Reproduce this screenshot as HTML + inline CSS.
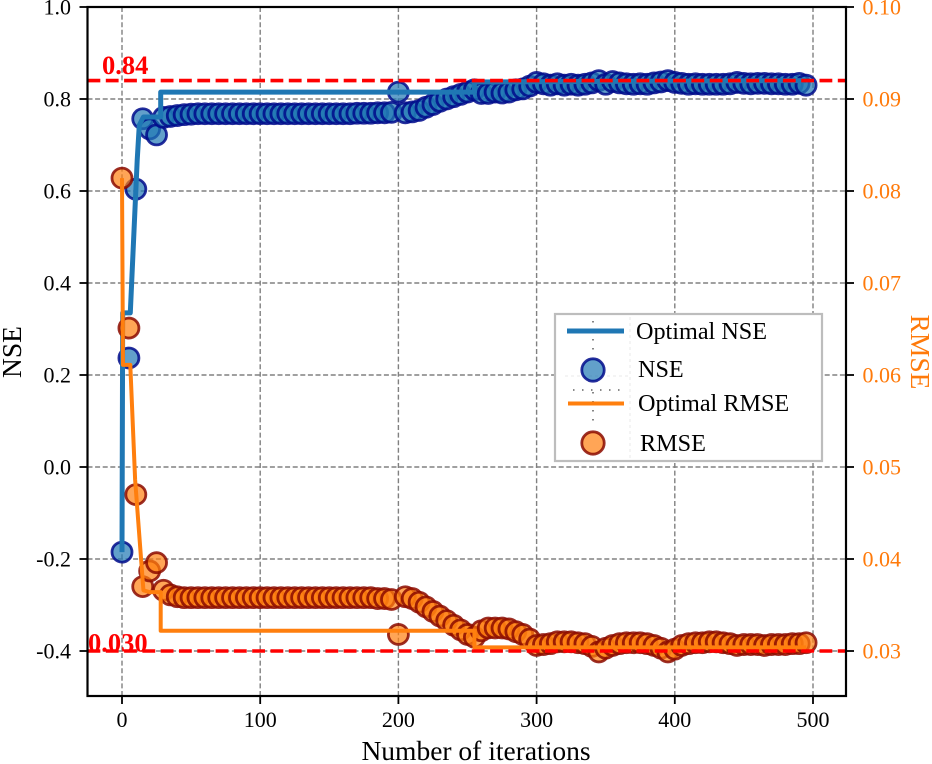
<!DOCTYPE html>
<html>
<head>
<meta charset="utf-8">
<style>
html,body{margin:0;padding:0;background:#fff}
svg{display:block}
text{font-family:"Liberation Serif",serif}
</style>
</head>
<body>
<svg id="chart" xmlns="http://www.w3.org/2000/svg" width="932" height="764" viewBox="0 0 932 764"></svg>
<script>
const iterations = [0,5,10,15,20,25,30,35,40,45,50,55,60,65,70,75,80,85,90,95,100,105,110,115,120,125,130,135,140,145,150,155,160,165,170,175,180,185,190,195,200,205,210,215,220,225,230,235,240,245,250,255,260,265,270,275,280,285,290,295,300,305,310,315,320,325,330,335,340,345,350,355,360,365,370,375,380,385,390,395,400,405,410,415,420,425,430,435,440,445,450,455,460,465,470,475,480,485,490,495];
const nseValues = [-0.185,0.237,0.604,0.757,0.735,0.722,0.76,0.762,0.764,0.766,0.767,0.768,0.768,0.768,0.768,0.768,0.768,0.768,0.768,0.768,0.768,0.768,0.768,0.768,0.768,0.768,0.768,0.768,0.768,0.768,0.768,0.768,0.768,0.768,0.769,0.769,0.769,0.77,0.77,0.771,0.815,0.77,0.772,0.775,0.782,0.788,0.795,0.8,0.805,0.81,0.815,0.82,0.812,0.812,0.815,0.813,0.815,0.82,0.822,0.828,0.836,0.833,0.83,0.833,0.83,0.832,0.83,0.832,0.835,0.84,0.832,0.838,0.835,0.833,0.832,0.833,0.832,0.835,0.837,0.84,0.836,0.834,0.832,0.833,0.832,0.832,0.832,0.832,0.833,0.836,0.834,0.833,0.834,0.834,0.833,0.833,0.832,0.832,0.834,0.83];
const rmseValues = [0.0814,0.0651,0.047,0.037,0.0387,0.0396,0.0366,0.0361,0.0359,0.0358,0.0358,0.0358,0.0358,0.0358,0.0358,0.0358,0.0358,0.0358,0.0358,0.0358,0.0358,0.0358,0.0358,0.0358,0.0358,0.0358,0.0358,0.0358,0.0358,0.0358,0.0358,0.0358,0.0358,0.0358,0.0358,0.0358,0.0358,0.0357,0.0357,0.0356,0.0318,0.0359,0.0357,0.0353,0.0348,0.0343,0.0338,0.0333,0.0328,0.0323,0.0318,0.0315,0.0322,0.0325,0.0325,0.0325,0.0324,0.0321,0.0318,0.0313,0.0306,0.0307,0.0308,0.031,0.031,0.031,0.0309,0.0308,0.0305,0.0299,0.0303,0.0306,0.0308,0.0309,0.0309,0.0309,0.0308,0.0306,0.0303,0.0299,0.0302,0.0306,0.0308,0.0309,0.0309,0.031,0.031,0.0309,0.0308,0.0306,0.0307,0.0307,0.0307,0.0306,0.0307,0.0307,0.0307,0.0308,0.0308,0.0309];
const optIterations = [0,0.5,6,11,12.5,15.5,28,28,255,255,495];
const optNseValues = [-0.185,0.335,0.335,0.667,0.743,0.761,0.761,0.815,0.815,0.837,0.84];
const optRmseIterations = [0,0.7,6,9.5,15.5,20,28,28,255,255,495];
const optRmseValues = [0.0814,0.0611,0.0611,0.0486,0.0366,0.0364,0.0364,0.0322,0.0322,0.0304,0.0304];
const xTicks = [0,100,200,300,400,500];
const yLeftTicks = [-0.4,-0.2,0,0.2,0.4,0.6,0.8,1.0];
const yRightTicks = [0.03,0.04,0.05,0.06,0.07,0.08,0.09,0.10];
const nseTarget = 0.84;
const rmseTarget = 0.03;

const NS = 'http://www.w3.org/2000/svg';
const svg = document.getElementById('chart');
const L = 87.5, R = 846, T = 7, B = 696;
const xAt = v => 122 + v * 1.382;
const yL = v => 7 + (1 - v) * 460;
const yR = v => 7 + (0.1 - v) * 9200;
function mk(tag, attrs, parent, txt) {
  const e = document.createElementNS(NS, tag);
  for (const k in attrs) e.setAttribute(k, attrs[k]);
  if (txt !== undefined) e.textContent = txt;
  (parent || svg).appendChild(e);
  return e;
}
function group(name) {
  const g = mk('g', {});
  
  
  return g;
}
function pts(xs, ys, yf) { return xs.map((x, i) => xAt(x).toFixed(2) + ',' + yf(ys[i]).toFixed(2)).join(' '); }

/* grid */
const grid = group('grid');
xTicks.forEach(t => {
  const l = mk('line', {x1: xAt(t), x2: xAt(t), y1: T, y2: B, stroke: '#808080', 'stroke-width': 1.4, 'stroke-dasharray': '5 2.6'}, grid);
  
  
});
yLeftTicks.forEach(t => {
  const l = mk('line', {x1: L, x2: R, y1: yL(t), y2: yL(t), stroke: '#808080', 'stroke-width': 1.4, 'stroke-dasharray': '5 2.6'}, grid);
  
  
});

/* NSE points + line */
const nseG = group('nse-series');
iterations.forEach((it, i) => {
  const c = mk('circle', {cx: xAt(it), cy: yL(nseValues[i]), r: 10, fill: '#1f77b4', 'fill-opacity': 0.7, stroke: '#000a8b', 'stroke-opacity': 0.85, 'stroke-width': 2.8}, nseG);
  
  
});
const nseLine = mk('polyline', {points: pts(optIterations, optNseValues, yL), fill: 'none', stroke: '#1f77b4', 'stroke-width': 5, 'stroke-linejoin': 'round'}, nseG);



/* RMSE points + line */
const rmseG = group('rmse-series');
iterations.forEach((it, i) => {
  const c = mk('circle', {cx: xAt(it), cy: yR(rmseValues[i]), r: 10, fill: '#ff7f0e', 'fill-opacity': 0.7, stroke: '#8b0a00', 'stroke-opacity': 0.85, 'stroke-width': 2.8}, rmseG);
  
  
});
const rmseLine = mk('polyline', {points: pts(optRmseIterations, optRmseValues, yR), fill: 'none', stroke: '#ff7f0e', 'stroke-width': 4, 'stroke-linejoin': 'round'}, rmseG);



/* red reference lines */
const nseRef = mk('line', {x1: L, x2: R, y1: yL(nseTarget), y2: yL(nseTarget), stroke: '#ff0000', 'stroke-width': 3.6, 'stroke-dasharray': '12.8 5.5'});


const rmseRef = mk('line', {x1: L, x2: R, y1: yR(rmseTarget), y2: yR(rmseTarget), stroke: '#ff0000', 'stroke-width': 3.6, 'stroke-dasharray': '12.8 5.5'});


const nseLabel = mk('text', {x: 102, y: 74, fill: '#ff0000', 'font-size': 26.5, 'font-weight': 'bold'}, svg, String(nseTarget));


const rmseLabel = mk('text', {x: 88, y: 651.5, fill: '#ff0000', 'font-size': 26.5, 'font-weight': 'bold'}, svg, rmseTarget.toFixed(3));



/* frame */
const frame = mk('rect', {x: L, y: T, width: R - L, height: B - T, fill: 'none', stroke: '#000', 'stroke-width': 2.2});



/* ticks + labels */
const xAxis = group('x-axis');
xTicks.forEach(t => {
  const m = mk('line', {x1: xAt(t), x2: xAt(t), y1: B, y2: B + 8, stroke: '#000', 'stroke-width': 1.8}, xAxis);
  
  
  const s = mk('text', {x: xAt(t), y: 727, 'text-anchor': 'middle', 'font-size': 22, fill: '#000'}, xAxis, String(t));
  
  
});
const yAxisL = group('left-y-axis');
yLeftTicks.forEach(t => {
  const m = mk('line', {x1: L - 8, x2: L, y1: yL(t), y2: yL(t), stroke: '#000', 'stroke-width': 1.8}, yAxisL);
  
  
  const s = mk('text', {x: 71, y: yL(t) + 7.5, 'text-anchor': 'end', 'font-size': 22, fill: '#000'}, yAxisL, t.toFixed(1));
  
  
});
const yAxisR = group('right-y-axis');
yRightTicks.forEach(t => {
  const m = mk('line', {x1: R, x2: R + 8, y1: yR(t), y2: yR(t), stroke: '#000', 'stroke-width': 1.8}, yAxisR);
  
  
  const s = mk('text', {x: 862.5, y: yR(t) + 7.5, 'font-size': 22, fill: '#ff7a0a'}, yAxisR, t.toFixed(2));
  
  
});
</script>
<script>
/* titles and legend */
const xt = mk('text', {x: 476, y: 760, 'text-anchor': 'middle', 'font-size': 27.5, fill: '#000'}, svg, 'Number of iterations');


const yt = mk('text', {x: 0, y: 0, transform: 'translate(21,352) rotate(-90)', 'text-anchor': 'middle', 'font-size': 27.5, fill: '#000'}, svg, 'NSE');


const yt2 = mk('text', {x: 0, y: 0, transform: 'translate(911,352) rotate(90)', 'text-anchor': 'middle', 'font-size': 27.5, fill: '#ff7a0a'}, svg, 'RMSE');



const lg = group('legend');
const box = mk('rect', {x: 555, y: 314, width: 267, height: 147, fill: '#fff', stroke: '#bdbdbd', 'stroke-width': 2.2}, lg);


[[630,317,630,458],[565,376,630,376]].forEach(a => {
  const l = mk('line', {x1: a[0], y1: a[1], x2: a[2], y2: a[3], stroke: '#e8e8e8', 'stroke-width': 1, 'stroke-dasharray': '3 3'}, lg);
  
  
});
[[593,321,593,352],[593,392,593,425],[573,390,624,390]].forEach(a => {
  const l = mk('line', {x1: a[0], y1: a[1], x2: a[2], y2: a[3], stroke: '#444', 'stroke-width': 1.3, 'stroke-dasharray': '1.5 7.5'}, lg);
  
  
});
const k1 = mk('line', {x1: 567, x2: 624, y1: 331, y2: 331, stroke: '#1f77b4', 'stroke-width': 5}, lg);


const k2 = mk('circle', {cx: 593, cy: 370, r: 11.2, fill: '#1f77b4', 'fill-opacity': 0.7, stroke: '#000a8b', 'stroke-opacity': 0.85, 'stroke-width': 2.8}, lg);


const k3 = mk('line', {x1: 568, x2: 624, y1: 403.5, y2: 403.5, stroke: '#ff7f0e', 'stroke-width': 4}, lg);


const k4 = mk('circle', {cx: 593, cy: 443, r: 11.2, fill: '#ff7f0e', 'fill-opacity': 0.7, stroke: '#8b0a00', 'stroke-opacity': 0.85, 'stroke-width': 2.8}, lg);


const t1 = mk('text', {x: 636, y: 339, 'font-size': 24.2, fill: '#000'}, lg, 'Optimal NSE');


const t2 = mk('text', {x: 638, y: 377, 'font-size': 24.2, fill: '#000'}, lg, 'NSE');


const t3 = mk('text', {x: 638, y: 411, 'font-size': 24.2, fill: '#000'}, lg, 'Optimal RMSE');


const t4 = mk('text', {x: 640, y: 451, 'font-size': 24.2, fill: '#000'}, lg, 'RMSE');


</script>
</body>
</html>
